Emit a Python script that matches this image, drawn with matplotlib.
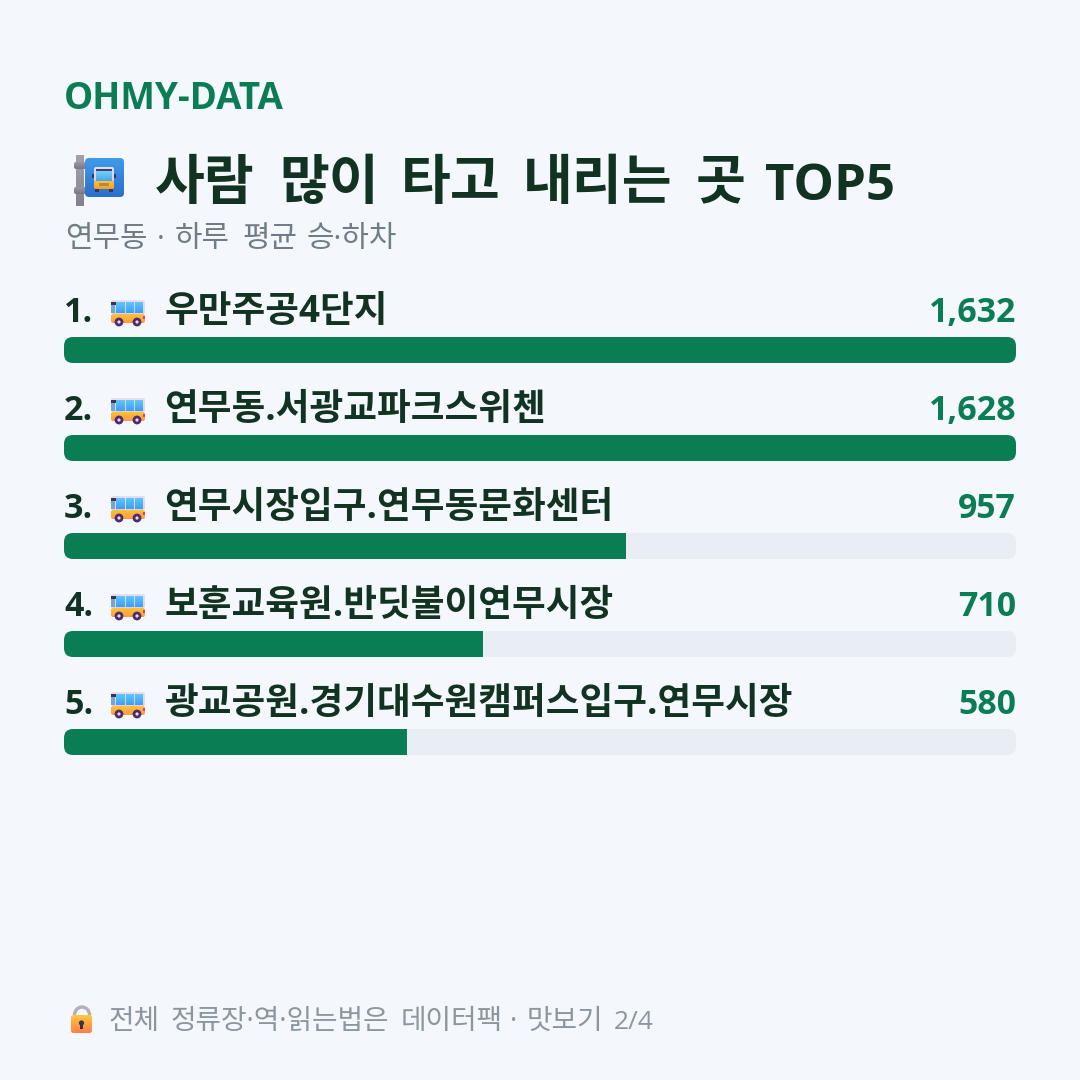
import numpy as np
import matplotlib
matplotlib.use("Agg")
import matplotlib.pyplot as plt
from matplotlib.colors import LinearSegmentedColormap
from matplotlib.patches import FancyBboxPatch, Rectangle, Circle, Arc

# stop data
ranks = [1, 2, 3, 4, 5]
stop_names = [
    "우만주공4단지",
    "연무동.서광교파크스위첸",
    "연무시장입구.연무동문화센터",
    "보훈교육원.반딧불이연무시장",
    "광교공원.경기대수원캠퍼스입구.연무시장",
]
boardings = [1632, 1628, 957, 710, 580]

brand = "OHMY-DATA"
title_words = ["사람", "많이", "타고", "내리는", "곳"]
title_word_x = [155, 279, 401, 523, 696]
title_latin = "TOP5"
subtitle_words = ["연무동", "·", "하루", "평균", "승·하차"]
subtitle_word_x = [65, 157, 175, 242, 307]
footer_words = ["전체", "정류장·역·읽는법은", "데이터팩", "·", "맛보기", "2/4"]
footer_word_x = [109, 171, 401, 510, 527, 614]

BG = "#F4F7FB"
GREEN = "#0A7D55"
DARK = "#123321"
TRACK = "#E9EDF4"
FONT = ["Open Sans", "Noto Sans CJK KR", "DejaVu Sans"]

plt.rcParams["font.family"] = FONT

# bar length is the share of the top stop, rounded to a whole percent
pct = np.round(np.array(boardings) / max(boardings) * 100)

fig = plt.figure(figsize=(10.8, 10.8), dpi=100, facecolor=BG)

# page axes in pixel units
ax = fig.add_axes([0, 0, 1, 1])
ax.set_xlim(0, 1080)
ax.set_ylim(1080, 0)
ax.axis("off")


def grad_box(x0, y0, x1, y1, top, bottom, r=0, z=3):
    cmap = LinearSegmentedColormap.from_list("g", [top, bottom])
    im = ax.imshow(np.linspace(0, 1, 32).reshape(-1, 1), cmap=cmap, aspect="auto",
                   extent=(x0, x1, y1, y0), zorder=z, interpolation="bilinear")
    clip = FancyBboxPatch((x0, y0), x1 - x0, y1 - y0, boxstyle=f"round,pad=0,rounding_size={max(r, 0.01)}",
                          fc="none", ec="none", zorder=z)
    ax.add_patch(clip)
    im.set_clip_path(clip)
    ax.set_xlim(0, 1080)
    ax.set_ylim(1080, 0)


def bus_icon(x, y):
    # side view bus, x/y is the top left corner of the body
    grad_box(x, y, x + 34, y + 14, "#E8DDF0", "#DCCFE8", r=2, z=3)
    grad_box(x + 5, y + 2, x + 14, y + 13, "#5CC6FA", "#3F9FF0", z=4)
    grad_box(x + 15, y + 2, x + 23, y + 13, "#5CC6FA", "#3F9FF0", z=4)
    grad_box(x + 24, y + 2, x + 32, y + 13, "#5CC6FA", "#3F9FF0", z=4)
    ax.add_patch(Rectangle((x, y + 2), 5, 3, fc="#3A3550", ec="none", zorder=5))
    ax.add_patch(Rectangle((x, y + 5), 4, 8, fc="#6FA8D8", ec="none", zorder=4))
    grad_box(x, y + 14, x + 34, y + 23, "#FFC233", "#FF9A45", r=2, z=5)
    ax.add_patch(Rectangle((x + 32, y + 16), 2, 3, fc="#E0358A", ec="none", zorder=6))
    for wx in (x + 8, x + 26):
        ax.add_patch(Circle((wx, y + 22), 4.4, fc="#4B2C6F", ec="none", zorder=7))
        ax.add_patch(Circle((wx, y + 22), 1.6, fc="#E8DDF0", ec="none", zorder=8))


def stop_icon():
    # bus stop sign on a pole
    grad_box(76, 155, 84, 206, "#A5A1AC", "#85818E", z=3)
    for cy in (162, 187):
        grad_box(74, cy, 86, cy + 7, "#9A96A2", "#7A7683", r=2, z=4)
    grad_box(85, 158, 124, 197, "#3F9BEA", "#2A6FCC", r=4, z=5)
    grad_box(94, 167, 114, 182, "#E6DCF0", "#D8CDE6", r=2, z=6)
    ax.add_patch(Rectangle((96, 169), 16, 2, fc="#4A3D5C", ec="none", zorder=7))
    grad_box(96, 171, 112, 181, "#70D0FA", "#4AA5F2", z=7)
    grad_box(94, 181, 114, 189, "#FFC233", "#F0A030", r=1.5, z=7)
    ax.add_patch(Rectangle((99, 183), 10, 3, fc="#B8893A", ec="none", zorder=8))
    ax.add_patch(Rectangle((95, 189), 4, 2.5, fc="#3A3550", ec="none", zorder=6))
    ax.add_patch(Rectangle((109, 189), 4, 2.5, fc="#3A3550", ec="none", zorder=6))
    ax.add_patch(Rectangle((92, 174), 2, 4, fc="#3A3550", ec="none", zorder=6))
    ax.add_patch(Rectangle((114, 174), 2, 4, fc="#3A3550", ec="none", zorder=6))


def lock_icon():
    ax.add_patch(Arc((82, 1015), 15, 16, theta1=180, theta2=360, ec="#B5AEBD", lw=2.4, zorder=3))
    ax.add_patch(Rectangle((73.2, 1014), 2.6, 3, fc="#B5AEBD", ec="none", zorder=3))
    ax.add_patch(Rectangle((88.2, 1014), 2.6, 3, fc="#B5AEBD", ec="none", zorder=3))
    grad_box(71, 1015, 92, 1033, "#FFC83D", "#FF7F4A", r=2.5, z=4)
    ax.add_patch(Circle((81.5, 1023), 2.6, fc="#3A3050", ec="none", zorder=5))
    ax.add_patch(Rectangle((80.4, 1024), 2.2, 5, fc="#3A3050", ec="none", zorder=5))


ax.text(64, 109, brand, fontsize=26.5, fontweight="bold", color=GREEN, va="baseline")

stop_icon()
for w, x in zip(title_words, title_word_x):
    ax.text(x, 198.5, w, fontsize=39, fontweight="bold", color=DARK, va="baseline")
ax.text(765, 199.5, title_latin, fontsize=36.6, fontweight="bold", color=DARK, va="baseline")
for w, x in zip(subtitle_words, subtitle_word_x):
    ax.text(x, 247, w, fontsize=21.5, color="#707D87", va="baseline")

# bars share one axes so length comes from the x scale
bar_ax = fig.add_axes([64 / 1080, 1 - 791 / 1080, 952 / 1080, 490 / 1080])
bar_ax.set_xlim(0, 100)
bar_ax.set_ylim(4.5, -0.5)
bar_ax.axis("off")
bar_ax.patch.set_alpha(0)

bars = bar_ax.barh(np.arange(len(pct)), pct, height=26 / 98, color=GREEN, zorder=3)

for i, (rank, name, val, bar) in enumerate(zip(ranks, stop_names, boardings, bars)):
    top = 337 + 98 * i
    track = FancyBboxPatch((64, top), 952, 26, boxstyle="round,pad=0,rounding_size=9",
                           fc=TRACK, ec="none", zorder=1)
    ax.add_patch(track)
    bar.set_clip_path(track)

    base = 322 + 98 * i
    ax.text(64, base, f"{rank}.", fontsize=24.5, fontweight="bold", color=DARK, va="baseline")
    bus_icon(111, 300 + 98 * i)
    ax.text(164, base, name, fontsize=26.4, fontweight="bold", color=DARK, va="baseline")
    ax.text(1016, base, f"{val:,}", fontsize=24.4, fontweight="bold", color=GREEN, va="baseline", ha="right")

lock_icon()
for w, x in zip(footer_words, footer_word_x):
    ax.text(x, 1029, w, fontsize=20 if w != "2/4" else 19, color="#8B96A1", va="baseline")

plt.savefig("out.png", dpi=100, facecolor=BG)
